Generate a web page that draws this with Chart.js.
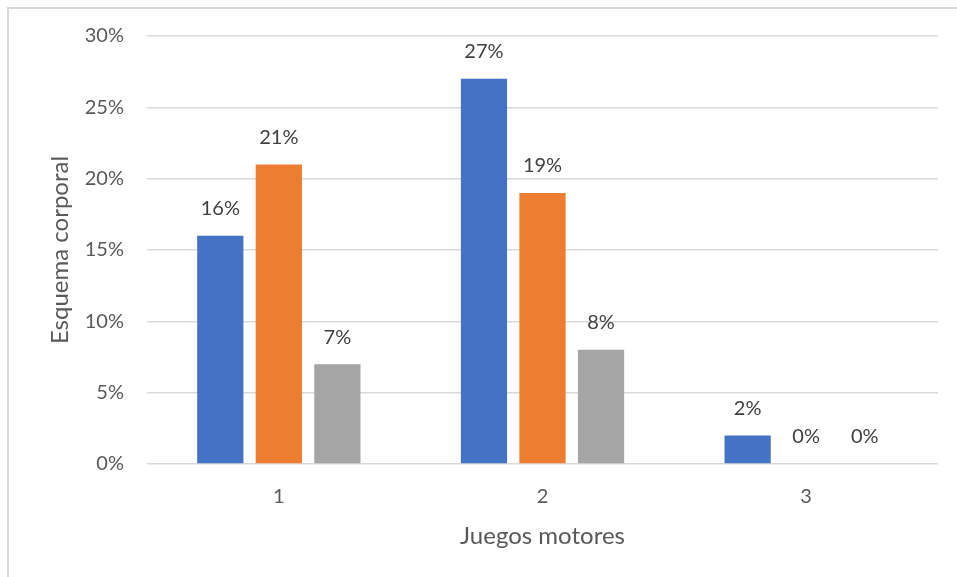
<!DOCTYPE html>
<html>
<head>
<meta charset="utf-8">
<script src="https://cdn.jsdelivr.net/npm/chart.js@4.4.1/dist/chart.umd.min.js"></script>
<style>
  html, body { margin: 0; padding: 0; background: #fff; }
  #wrap { position: relative; width: 957px; height: 577px; overflow: hidden; }
  #frame { position: absolute; left: 7px; top: 7px; width: 1000px; height: 600px;
           border-left: 2px solid #d9d9d9; border-top: 2px solid #d9d9d9; }
  canvas { position: absolute; left: 0; top: 0; }
</style>
</head>
<body>
<div id="wrap">
  <div id="frame"></div>
  <canvas id="chart" width="957" height="577"></canvas>
</div>
<script>
// values
const categories = ["1", "2", "3"];
const serieA = [16, 27, 2];
const serieB = [21, 19, 0];
const serieC = [7, 8, 0];
const colors = ["#4472C4", "#ED7D31", "#A5A5A5"];
const xTitle = "Juegos motores";
const yTitle = "Esquema corporal";

const FONT = "Lato, 'Open Sans', sans-serif";

// labels on bars + axis titles, drawn by hand (no datalabels plugin offline)
const extras = {
  id: "extras",
  afterDatasetsDraw(chart) {
    const ctx = chart.ctx;
    const area = chart.chartArea;
    ctx.save();
    ctx.font = "20px " + FONT;
    ctx.fillStyle = "#404040";
    ctx.textAlign = "center";
    ctx.textBaseline = "middle";
    chart.data.datasets.forEach((ds, i) => {
      chart.getDatasetMeta(i).data.forEach((bar, j) => {
        ctx.fillText(ds.data[j] + "%", bar.x, bar.y - 27);
      });
    });

    ctx.font = "24px " + FONT;
    ctx.fillStyle = "#595959";
    ctx.fillText(xTitle, (area.left + area.right) / 2, 536);
    ctx.translate(60, (area.top + area.bottom) / 2);
    ctx.rotate(-Math.PI / 2);
    ctx.fillText(yTitle, 0, 0);
    ctx.restore();
  }
};

new Chart(document.getElementById("chart"), {
  type: "bar",
  plugins: [extras],
  data: {
    labels: categories,
    datasets: [
      { data: serieA, backgroundColor: colors[0] },
      { data: serieB, backgroundColor: colors[1] },
      { data: serieC, backgroundColor: colors[2] }
    ]
  },
  options: {
    responsive: false,
    animation: false,
    layout: { padding: { left: 0, right: 19, top: 36, bottom: 0 } },
    plugins: { legend: { display: false }, tooltip: { enabled: false } },
    datasets: { bar: { categoryPercentage: 0.666, barPercentage: 0.79 } },
    scales: {
      x: {
        grid: { display: false },
        border: { display: false },
        ticks: { color: "#595959", font: { size: 20, family: FONT }, padding: 13 },
        afterFit(s) { s.height = 113; }
      },
      y: {
        min: 0, max: 30,
        ticks: { stepSize: 5, color: "#595959", font: { size: 20, family: FONT },
                 padding: 23, callback: v => v + "%" },
        grid: { color: "#d9d9d9", lineWidth: 1.5, drawTicks: false },
        border: { display: false },
        afterFit(s) { s.width = 147; }
      }
    }
  }
});
</script>
</body>
</html>
